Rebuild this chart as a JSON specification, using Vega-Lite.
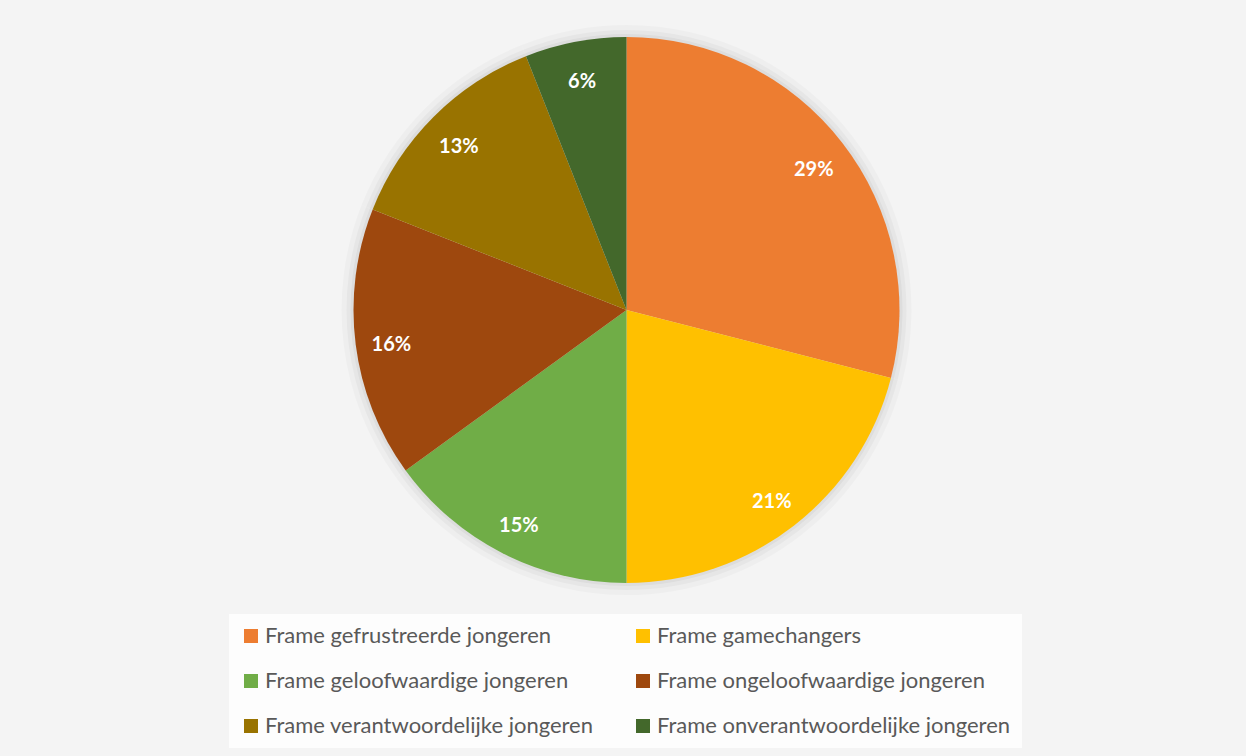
{
  "$schema": "https://vega.github.io/schema/vega-lite/v6.json",
  "width": 1239,
  "height": 606,
  "autosize": {"type": "none"},
  "padding": {"left": 7, "top": 7, "right": 0, "bottom": 143},
  "background": "#f4f4f4",
  "config": {"view": {"stroke": null}},
  "data": {
    "values": [
      {"frame": "Frame gefrustreerde jongeren", "value": 0.29, "ord": 1},
      {"frame": "Frame gamechangers", "value": 0.21, "ord": 2},
      {"frame": "Frame geloofwaardige jongeren", "value": 0.15, "ord": 3},
      {"frame": "Frame ongeloofwaardige jongeren", "value": 0.16, "ord": 4},
      {"frame": "Frame verantwoordelijke jongeren", "value": 0.13, "ord": 5},
      {"frame": "Frame onverantwoordelijke jongeren", "value": 0.06, "ord": 6}
    ]
  },
  "encoding": {
    "theta": {"field": "value", "type": "quantitative", "stack": true},
    "order": {"field": "ord", "type": "quantitative"}
  },
  "layer": [
    {
      "mark": {"type": "arc", "radius": 285, "color": "#000000", "opacity": 0.025}
    },
    {
      "mark": {"type": "arc", "radius": 280, "color": "#000000", "opacity": 0.03}
    },
    {
      "mark": {"type": "arc", "radius": 276, "color": "#000000", "opacity": 0.04}
    },
    {
      "mark": {"type": "arc", "radius": 273},
      "encoding": {
        "color": {
          "field": "frame",
          "type": "nominal",
          "sort": null,
          "scale": {
            "domain": [
              "Frame gefrustreerde jongeren",
              "Frame gamechangers",
              "Frame geloofwaardige jongeren",
              "Frame ongeloofwaardige jongeren",
              "Frame verantwoordelijke jongeren",
              "Frame onverantwoordelijke jongeren"
            ],
            "range": ["#ed7d31", "#ffc000", "#70ad47", "#9e480e", "#997300", "#43682b"]
          },
          "legend": {
            "orient": "none",
            "legendX": 222,
            "legendY": 607,
            "direction": "horizontal",
            "columns": 2,
            "title": null,
            "symbolType": "square",
            "symbolSize": 196,
            "symbolStrokeWidth": 0,
            "labelFont": "Lato",
            "labelFontSize": 22,
            "labelColor": "#595959",
            "labelOffset": 3,
            "labelLimit": 600,
            "rowPadding": 23,
            "columnPadding": 38,
            "padding": 11,
            "fillColor": "#fdfdfd"
          }
        }
      }
    },
    {
      "mark": {"type": "text", "radius": 237, "dy": 5, "font": "Lato", "fontWeight": "bold", "fontSize": 20, "color": "#ffffff"},
      "encoding": {
        "text": {"field": "value", "type": "quantitative", "format": ".0%"}
      }
    }
  ]
}
